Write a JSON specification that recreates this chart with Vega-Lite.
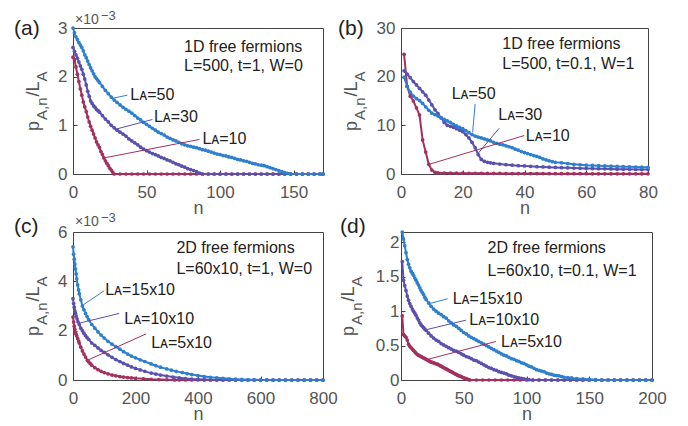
{
"$schema":"https://vega.github.io/schema/vega-lite/v6.json",
"autosize":{"type":"pad"},
"padding":{"left":13,"top":9,"right":5,"bottom":5},
"background":"white",
"config":{
 "view":{"stroke":"#444","strokeWidth":1},
 "axis":{"domain":false,"grid":false,"ticks":true,"tickSize":-4,"tickColor":"#444","labelFont":"Liberation Sans","labelFontSize":17,"labelColor":"#555","labelPadding":14,"titleFont":"Liberation Sans","titleFontSize":18,"titleFontWeight":"normal","titleColor":"#555","titlePadding":-1,"labelFlush":false,"labelOverlap":false},
 "axisY":{"labelPadding":10},
 "text":{"font":"Liberation Sans"}
},
"datasets":{
"a":[
{"n":0,"p":2.4,"s":"s1"},{"n":1,"p":2.35,"s":"s1"},{"n":2,"p":2.2,"s":"s1"},{"n":3,"p":2.05,"s":"s1"},{"n":4,"p":1.9,"s":"s1"},{"n":5,"p":1.75,"s":"s1"},{"n":6,"p":1.62,"s":"s1"},{"n":7,"p":1.48,"s":"s1"},{"n":8,"p":1.38,"s":"s1"},{"n":9,"p":1.28,"s":"s1"},{"n":10,"p":1.17,"s":"s1"},{"n":11,"p":1.07,"s":"s1"},{"n":12,"p":0.98,"s":"s1"},{"n":13,"p":0.9,"s":"s1"},{"n":14,"p":0.82,"s":"s1"},{"n":15,"p":0.74,"s":"s1"},{"n":16,"p":0.66,"s":"s1"},{"n":17,"p":0.6,"s":"s1"},{"n":18,"p":0.54,"s":"s1"},{"n":19,"p":0.46,"s":"s1"},{"n":20,"p":0.4,"s":"s1"},{"n":21,"p":0.33,"s":"s1"},{"n":22,"p":0.27,"s":"s1"},{"n":23,"p":0.22,"s":"s1"},{"n":24,"p":0.17,"s":"s1"},{"n":25,"p":0.12,"s":"s1"},{"n":26,"p":0.08,"s":"s1"},{"n":27,"p":0.04,"s":"s1"},{"n":28,"p":0,"s":"s1"},{"n":32,"p":0,"s":"s1"},{"n":36,"p":0,"s":"s1"},{"n":40,"p":0,"s":"s1"},{"n":44,"p":0,"s":"s1"},{"n":48,"p":0,"s":"s1"},{"n":52,"p":0,"s":"s1"},{"n":56,"p":0,"s":"s1"},{"n":60,"p":0,"s":"s1"},{"n":64,"p":0,"s":"s1"},{"n":68,"p":0,"s":"s1"},{"n":72,"p":0,"s":"s1"},{"n":76,"p":0,"s":"s1"},{"n":80,"p":0,"s":"s1"},{"n":84,"p":0,"s":"s1"},{"n":88,"p":0,"s":"s1"},{"n":92,"p":0,"s":"s1"},{"n":96,"p":0,"s":"s1"},{"n":100,"p":0,"s":"s1"},{"n":104,"p":0,"s":"s1"},{"n":108,"p":0,"s":"s1"},{"n":112,"p":0,"s":"s1"},{"n":116,"p":0,"s":"s1"},{"n":120,"p":0,"s":"s1"},{"n":124,"p":0,"s":"s1"},{"n":128,"p":0,"s":"s1"},{"n":132,"p":0,"s":"s1"},{"n":136,"p":0,"s":"s1"},{"n":140,"p":0,"s":"s1"},{"n":144,"p":0,"s":"s1"},{"n":148,"p":0,"s":"s1"},{"n":152,"p":0,"s":"s1"},{"n":156,"p":0,"s":"s1"},{"n":160,"p":0,"s":"s1"},{"n":164,"p":0,"s":"s1"},{"n":168,"p":0,"s":"s1"},{"n":170,"p":0,"s":"s1"},
{"n":0,"p":2.6,"s":"s2"},{"n":1,"p":2.52,"s":"s2"},{"n":2,"p":2.45,"s":"s2"},{"n":3,"p":2.38,"s":"s2"},{"n":4,"p":2.3,"s":"s2"},{"n":5,"p":2.22,"s":"s2"},{"n":6,"p":2.15,"s":"s2"},{"n":7,"p":2.05,"s":"s2"},{"n":8,"p":1.95,"s":"s2"},{"n":9,"p":1.83,"s":"s2"},{"n":10,"p":1.7,"s":"s2"},{"n":11,"p":1.6,"s":"s2"},{"n":12,"p":1.5,"s":"s2"},{"n":13,"p":1.45,"s":"s2"},{"n":14,"p":1.4,"s":"s2"},{"n":15,"p":1.37,"s":"s2"},{"n":16,"p":1.33,"s":"s2"},{"n":17,"p":1.3,"s":"s2"},{"n":18,"p":1.27,"s":"s2"},{"n":20,"p":1.2,"s":"s2"},{"n":22,"p":1.13,"s":"s2"},{"n":24,"p":1.07,"s":"s2"},{"n":26,"p":1.0,"s":"s2"},{"n":28,"p":0.95,"s":"s2"},{"n":30,"p":0.9,"s":"s2"},{"n":32,"p":0.86,"s":"s2"},{"n":34,"p":0.82,"s":"s2"},{"n":36,"p":0.78,"s":"s2"},{"n":38,"p":0.72,"s":"s2"},{"n":40,"p":0.68,"s":"s2"},{"n":42,"p":0.64,"s":"s2"},{"n":44,"p":0.6,"s":"s2"},{"n":46,"p":0.55,"s":"s2"},{"n":48,"p":0.51,"s":"s2"},{"n":50,"p":0.48,"s":"s2"},{"n":52,"p":0.45,"s":"s2"},{"n":54,"p":0.42,"s":"s2"},{"n":56,"p":0.4,"s":"s2"},{"n":58,"p":0.37,"s":"s2"},{"n":60,"p":0.34,"s":"s2"},{"n":62,"p":0.32,"s":"s2"},{"n":64,"p":0.29,"s":"s2"},{"n":66,"p":0.27,"s":"s2"},{"n":68,"p":0.24,"s":"s2"},{"n":70,"p":0.21,"s":"s2"},{"n":72,"p":0.19,"s":"s2"},{"n":74,"p":0.16,"s":"s2"},{"n":76,"p":0.14,"s":"s2"},{"n":78,"p":0.11,"s":"s2"},{"n":80,"p":0.09,"s":"s2"},{"n":82,"p":0.07,"s":"s2"},{"n":84,"p":0.05,"s":"s2"},{"n":86,"p":0.02,"s":"s2"},{"n":88,"p":0,"s":"s2"},{"n":92,"p":0,"s":"s2"},{"n":96,"p":0,"s":"s2"},{"n":100,"p":0,"s":"s2"},{"n":104,"p":0,"s":"s2"},{"n":108,"p":0,"s":"s2"},{"n":112,"p":0,"s":"s2"},{"n":116,"p":0,"s":"s2"},{"n":120,"p":0,"s":"s2"},{"n":124,"p":0,"s":"s2"},{"n":128,"p":0,"s":"s2"},{"n":132,"p":0,"s":"s2"},{"n":136,"p":0,"s":"s2"},{"n":140,"p":0,"s":"s2"},{"n":144,"p":0,"s":"s2"},{"n":148,"p":0,"s":"s2"},{"n":152,"p":0,"s":"s2"},{"n":156,"p":0,"s":"s2"},{"n":160,"p":0,"s":"s2"},{"n":164,"p":0,"s":"s2"},{"n":168,"p":0,"s":"s2"},{"n":170,"p":0,"s":"s2"},
{"n":0,"p":3.0,"s":"s3"},{"n":1,"p":2.9,"s":"s3"},{"n":2,"p":2.82,"s":"s3"},{"n":3,"p":2.76,"s":"s3"},{"n":4,"p":2.7,"s":"s3"},{"n":5,"p":2.65,"s":"s3"},{"n":6,"p":2.6,"s":"s3"},{"n":7,"p":2.53,"s":"s3"},{"n":8,"p":2.45,"s":"s3"},{"n":9,"p":2.39,"s":"s3"},{"n":10,"p":2.32,"s":"s3"},{"n":11,"p":2.25,"s":"s3"},{"n":12,"p":2.18,"s":"s3"},{"n":13,"p":2.12,"s":"s3"},{"n":14,"p":2.06,"s":"s3"},{"n":15,"p":2.0,"s":"s3"},{"n":16,"p":1.96,"s":"s3"},{"n":17,"p":1.92,"s":"s3"},{"n":18,"p":1.88,"s":"s3"},{"n":20,"p":1.8,"s":"s3"},{"n":22,"p":1.72,"s":"s3"},{"n":24,"p":1.65,"s":"s3"},{"n":26,"p":1.58,"s":"s3"},{"n":28,"p":1.52,"s":"s3"},{"n":30,"p":1.47,"s":"s3"},{"n":32,"p":1.42,"s":"s3"},{"n":34,"p":1.37,"s":"s3"},{"n":36,"p":1.33,"s":"s3"},{"n":38,"p":1.29,"s":"s3"},{"n":40,"p":1.25,"s":"s3"},{"n":42,"p":1.2,"s":"s3"},{"n":44,"p":1.15,"s":"s3"},{"n":46,"p":1.11,"s":"s3"},{"n":48,"p":1.06,"s":"s3"},{"n":50,"p":1.02,"s":"s3"},{"n":52,"p":0.98,"s":"s3"},{"n":54,"p":0.94,"s":"s3"},{"n":56,"p":0.9,"s":"s3"},{"n":58,"p":0.86,"s":"s3"},{"n":60,"p":0.83,"s":"s3"},{"n":62,"p":0.8,"s":"s3"},{"n":64,"p":0.76,"s":"s3"},{"n":66,"p":0.73,"s":"s3"},{"n":68,"p":0.7,"s":"s3"},{"n":70,"p":0.68,"s":"s3"},{"n":72,"p":0.65,"s":"s3"},{"n":74,"p":0.62,"s":"s3"},{"n":76,"p":0.6,"s":"s3"},{"n":78,"p":0.58,"s":"s3"},{"n":80,"p":0.57,"s":"s3"},{"n":82,"p":0.55,"s":"s3"},{"n":84,"p":0.54,"s":"s3"},{"n":86,"p":0.52,"s":"s3"},{"n":88,"p":0.5,"s":"s3"},{"n":90,"p":0.49,"s":"s3"},{"n":92,"p":0.47,"s":"s3"},{"n":94,"p":0.45,"s":"s3"},{"n":96,"p":0.43,"s":"s3"},{"n":98,"p":0.41,"s":"s3"},{"n":100,"p":0.4,"s":"s3"},{"n":102,"p":0.38,"s":"s3"},{"n":104,"p":0.37,"s":"s3"},{"n":106,"p":0.35,"s":"s3"},{"n":108,"p":0.34,"s":"s3"},{"n":110,"p":0.32,"s":"s3"},{"n":112,"p":0.3,"s":"s3"},{"n":114,"p":0.29,"s":"s3"},{"n":116,"p":0.27,"s":"s3"},{"n":118,"p":0.26,"s":"s3"},{"n":120,"p":0.24,"s":"s3"},{"n":122,"p":0.22,"s":"s3"},{"n":124,"p":0.21,"s":"s3"},{"n":126,"p":0.19,"s":"s3"},{"n":128,"p":0.18,"s":"s3"},{"n":130,"p":0.17,"s":"s3"},{"n":132,"p":0.15,"s":"s3"},{"n":134,"p":0.13,"s":"s3"},{"n":136,"p":0.11,"s":"s3"},{"n":138,"p":0.09,"s":"s3"},{"n":140,"p":0.07,"s":"s3"},{"n":142,"p":0.05,"s":"s3"},{"n":144,"p":0.03,"s":"s3"},{"n":146,"p":0.015,"s":"s3"},{"n":148,"p":0,"s":"s3"},{"n":152,"p":0,"s":"s3"},{"n":156,"p":0,"s":"s3"},{"n":160,"p":0,"s":"s3"},{"n":164,"p":0,"s":"s3"},{"n":168,"p":0,"s":"s3"},{"n":170,"p":0,"s":"s3"}
],
"b":[
{"n":1,"p":24.6,"s":"s1"},{"n":2,"p":18.0,"s":"s1"},{"n":3,"p":16.0,"s":"s1"},{"n":4,"p":15.0,"s":"s1"},{"n":5,"p":13.6,"s":"s1"},{"n":6,"p":12.1,"s":"s1"},{"n":7,"p":7.0,"s":"s1"},{"n":8,"p":4.5,"s":"s1"},{"n":9,"p":2.0,"s":"s1"},{"n":10,"p":0.8,"s":"s1"},{"n":11,"p":0.35,"s":"s1"},{"n":12,"p":0.25,"s":"s1"},{"n":14,"p":0.2,"s":"s1"},{"n":16,"p":0.18,"s":"s1"},{"n":18,"p":0.17,"s":"s1"},{"n":20,"p":0.16,"s":"s1"},{"n":22,"p":0.15,"s":"s1"},{"n":24,"p":0.14,"s":"s1"},{"n":26,"p":0.13,"s":"s1"},{"n":28,"p":0.12,"s":"s1"},{"n":30,"p":0.12,"s":"s1"},{"n":32,"p":0.11,"s":"s1"},{"n":34,"p":0.1,"s":"s1"},{"n":36,"p":0.1,"s":"s1"},{"n":38,"p":0.09,"s":"s1"},{"n":40,"p":0.09,"s":"s1"},{"n":42,"p":0.08,"s":"s1"},{"n":44,"p":0.08,"s":"s1"},{"n":46,"p":0.08,"s":"s1"},{"n":48,"p":0.07,"s":"s1"},{"n":50,"p":0.07,"s":"s1"},{"n":52,"p":0.07,"s":"s1"},{"n":54,"p":0.06,"s":"s1"},{"n":56,"p":0.06,"s":"s1"},{"n":58,"p":0.06,"s":"s1"},{"n":60,"p":0.06,"s":"s1"},{"n":62,"p":0.05,"s":"s1"},{"n":64,"p":0.05,"s":"s1"},{"n":66,"p":0.05,"s":"s1"},{"n":68,"p":0.05,"s":"s1"},{"n":70,"p":0.05,"s":"s1"},{"n":72,"p":0.04,"s":"s1"},{"n":74,"p":0.04,"s":"s1"},{"n":76,"p":0.04,"s":"s1"},{"n":78,"p":0.04,"s":"s1"},{"n":80,"p":0.04,"s":"s1"},
{"n":1,"p":21.2,"s":"s2"},{"n":2,"p":20.5,"s":"s2"},{"n":3,"p":19.8,"s":"s2"},{"n":4,"p":19.0,"s":"s2"},{"n":5,"p":18.3,"s":"s2"},{"n":6,"p":17.6,"s":"s2"},{"n":7,"p":16.9,"s":"s2"},{"n":8,"p":16.2,"s":"s2"},{"n":9,"p":15.2,"s":"s2"},{"n":10,"p":14.2,"s":"s2"},{"n":11,"p":13.2,"s":"s2"},{"n":12,"p":12.4,"s":"s2"},{"n":13,"p":11.5,"s":"s2"},{"n":14,"p":10.6,"s":"s2"},{"n":15,"p":10.0,"s":"s2"},{"n":16,"p":9.8,"s":"s2"},{"n":17,"p":9.6,"s":"s2"},{"n":18,"p":9.3,"s":"s2"},{"n":19,"p":9.0,"s":"s2"},{"n":20,"p":8.7,"s":"s2"},{"n":21,"p":8.1,"s":"s2"},{"n":22,"p":7.4,"s":"s2"},{"n":23,"p":6.5,"s":"s2"},{"n":24,"p":5.4,"s":"s2"},{"n":25,"p":4.0,"s":"s2"},{"n":26,"p":3.0,"s":"s2"},{"n":27,"p":2.6,"s":"s2"},{"n":28,"p":2.4,"s":"s2"},{"n":29,"p":2.3,"s":"s2"},{"n":30,"p":2.2,"s":"s2"},{"n":32,"p":2.05,"s":"s2"},{"n":34,"p":1.92,"s":"s2"},{"n":36,"p":1.82,"s":"s2"},{"n":38,"p":1.72,"s":"s2"},{"n":40,"p":1.65,"s":"s2"},{"n":42,"p":1.58,"s":"s2"},{"n":44,"p":1.5,"s":"s2"},{"n":46,"p":1.45,"s":"s2"},{"n":48,"p":1.4,"s":"s2"},{"n":50,"p":1.35,"s":"s2"},{"n":52,"p":1.3,"s":"s2"},{"n":54,"p":1.26,"s":"s2"},{"n":56,"p":1.22,"s":"s2"},{"n":58,"p":1.18,"s":"s2"},{"n":60,"p":1.15,"s":"s2"},{"n":62,"p":1.12,"s":"s2"},{"n":64,"p":1.09,"s":"s2"},{"n":66,"p":1.06,"s":"s2"},{"n":68,"p":1.03,"s":"s2"},{"n":70,"p":1.0,"s":"s2"},{"n":72,"p":0.98,"s":"s2"},{"n":74,"p":0.96,"s":"s2"},{"n":76,"p":0.94,"s":"s2"},{"n":78,"p":0.92,"s":"s2"},{"n":80,"p":0.9,"s":"s2"},
{"n":1,"p":19.9,"s":"s3"},{"n":2,"p":18.0,"s":"s3"},{"n":3,"p":16.8,"s":"s3"},{"n":4,"p":16.0,"s":"s3"},{"n":5,"p":15.5,"s":"s3"},{"n":6,"p":15.1,"s":"s3"},{"n":7,"p":14.5,"s":"s3"},{"n":8,"p":13.8,"s":"s3"},{"n":9,"p":13.1,"s":"s3"},{"n":10,"p":12.5,"s":"s3"},{"n":11,"p":12.2,"s":"s3"},{"n":12,"p":11.9,"s":"s3"},{"n":13,"p":11.6,"s":"s3"},{"n":14,"p":11.2,"s":"s3"},{"n":15,"p":10.9,"s":"s3"},{"n":16,"p":10.6,"s":"s3"},{"n":17,"p":10.2,"s":"s3"},{"n":18,"p":9.9,"s":"s3"},{"n":19,"p":9.6,"s":"s3"},{"n":20,"p":9.3,"s":"s3"},{"n":21,"p":8.9,"s":"s3"},{"n":22,"p":8.5,"s":"s3"},{"n":23,"p":8.1,"s":"s3"},{"n":24,"p":7.8,"s":"s3"},{"n":25,"p":7.6,"s":"s3"},{"n":26,"p":7.4,"s":"s3"},{"n":27,"p":7.2,"s":"s3"},{"n":28,"p":7.0,"s":"s3"},{"n":29,"p":6.8,"s":"s3"},{"n":30,"p":6.5,"s":"s3"},{"n":31,"p":6.3,"s":"s3"},{"n":32,"p":6.1,"s":"s3"},{"n":33,"p":6.0,"s":"s3"},{"n":34,"p":5.8,"s":"s3"},{"n":35,"p":5.6,"s":"s3"},{"n":36,"p":5.4,"s":"s3"},{"n":37,"p":5.1,"s":"s3"},{"n":38,"p":4.9,"s":"s3"},{"n":39,"p":4.6,"s":"s3"},{"n":40,"p":4.4,"s":"s3"},{"n":41,"p":4.2,"s":"s3"},{"n":42,"p":4.0,"s":"s3"},{"n":43,"p":3.8,"s":"s3"},{"n":44,"p":3.6,"s":"s3"},{"n":45,"p":3.4,"s":"s3"},{"n":46,"p":3.1,"s":"s3"},{"n":47,"p":2.9,"s":"s3"},{"n":48,"p":2.7,"s":"s3"},{"n":49,"p":2.55,"s":"s3"},{"n":50,"p":2.4,"s":"s3"},{"n":52,"p":2.3,"s":"s3"},{"n":54,"p":2.15,"s":"s3"},{"n":56,"p":2.0,"s":"s3"},{"n":58,"p":1.9,"s":"s3"},{"n":60,"p":1.8,"s":"s3"},{"n":62,"p":1.75,"s":"s3"},{"n":64,"p":1.7,"s":"s3"},{"n":66,"p":1.65,"s":"s3"},{"n":68,"p":1.6,"s":"s3"},{"n":70,"p":1.55,"s":"s3"},{"n":72,"p":1.5,"s":"s3"},{"n":74,"p":1.47,"s":"s3"},{"n":76,"p":1.43,"s":"s3"},{"n":78,"p":1.4,"s":"s3"},{"n":80,"p":1.38,"s":"s3"}
],
"c":[
{"n":0,"p":2.55,"s":"s1"},{"n":2,"p":2.35,"s":"s1"},{"n":4,"p":2.18,"s":"s1"},{"n":6,"p":2.05,"s":"s1"},{"n":8,"p":1.93,"s":"s1"},{"n":10,"p":1.85,"s":"s1"},{"n":12,"p":1.78,"s":"s1"},{"n":15,"p":1.68,"s":"s1"},{"n":18,"p":1.58,"s":"s1"},{"n":20,"p":1.5,"s":"s1"},{"n":25,"p":1.33,"s":"s1"},{"n":30,"p":1.18,"s":"s1"},{"n":35,"p":1.05,"s":"s1"},{"n":40,"p":0.93,"s":"s1"},{"n":46,"p":0.8,"s":"s1"},{"n":50,"p":0.74,"s":"s1"},{"n":55,"p":0.67,"s":"s1"},{"n":60,"p":0.6,"s":"s1"},{"n":70,"p":0.5,"s":"s1"},{"n":80,"p":0.42,"s":"s1"},{"n":90,"p":0.35,"s":"s1"},{"n":100,"p":0.3,"s":"s1"},{"n":112,"p":0.25,"s":"s1"},{"n":125,"p":0.2,"s":"s1"},{"n":137,"p":0.17,"s":"s1"},{"n":150,"p":0.14,"s":"s1"},{"n":162,"p":0.12,"s":"s1"},{"n":175,"p":0.1,"s":"s1"},{"n":187,"p":0.085,"s":"s1"},{"n":200,"p":0.07,"s":"s1"},{"n":225,"p":0.05,"s":"s1"},{"n":250,"p":0.03,"s":"s1"},{"n":275,"p":0.02,"s":"s1"},{"n":300,"p":0.01,"s":"s1"},{"n":325,"p":0.005,"s":"s1"},{"n":340,"p":0,"s":"s1"},{"n":360,"p":0,"s":"s1"},{"n":380,"p":0,"s":"s1"},{"n":400,"p":0,"s":"s1"},{"n":420,"p":0,"s":"s1"},{"n":440,"p":0,"s":"s1"},{"n":460,"p":0,"s":"s1"},{"n":480,"p":0,"s":"s1"},{"n":500,"p":0,"s":"s1"},{"n":520,"p":0,"s":"s1"},{"n":540,"p":0,"s":"s1"},{"n":560,"p":0,"s":"s1"},{"n":580,"p":0,"s":"s1"},{"n":600,"p":0,"s":"s1"},{"n":620,"p":0,"s":"s1"},{"n":640,"p":0,"s":"s1"},{"n":660,"p":0,"s":"s1"},{"n":680,"p":0,"s":"s1"},{"n":700,"p":0,"s":"s1"},{"n":720,"p":0,"s":"s1"},{"n":740,"p":0,"s":"s1"},{"n":760,"p":0,"s":"s1"},{"n":780,"p":0,"s":"s1"},{"n":800,"p":0,"s":"s1"},
{"n":0,"p":3.3,"s":"s2"},{"n":2,"p":3.1,"s":"s2"},{"n":4,"p":2.95,"s":"s2"},{"n":6,"p":2.8,"s":"s2"},{"n":8,"p":2.7,"s":"s2"},{"n":10,"p":2.6,"s":"s2"},{"n":13,"p":2.48,"s":"s2"},{"n":16,"p":2.36,"s":"s2"},{"n":20,"p":2.25,"s":"s2"},{"n":25,"p":2.1,"s":"s2"},{"n":30,"p":2.0,"s":"s2"},{"n":35,"p":1.9,"s":"s2"},{"n":40,"p":1.8,"s":"s2"},{"n":45,"p":1.72,"s":"s2"},{"n":50,"p":1.65,"s":"s2"},{"n":60,"p":1.5,"s":"s2"},{"n":70,"p":1.4,"s":"s2"},{"n":80,"p":1.3,"s":"s2"},{"n":90,"p":1.2,"s":"s2"},{"n":100,"p":1.12,"s":"s2"},{"n":112,"p":1.02,"s":"s2"},{"n":125,"p":0.92,"s":"s2"},{"n":137,"p":0.83,"s":"s2"},{"n":150,"p":0.75,"s":"s2"},{"n":162,"p":0.67,"s":"s2"},{"n":175,"p":0.6,"s":"s2"},{"n":187,"p":0.53,"s":"s2"},{"n":200,"p":0.47,"s":"s2"},{"n":215,"p":0.41,"s":"s2"},{"n":230,"p":0.35,"s":"s2"},{"n":250,"p":0.28,"s":"s2"},{"n":265,"p":0.24,"s":"s2"},{"n":280,"p":0.2,"s":"s2"},{"n":300,"p":0.16,"s":"s2"},{"n":320,"p":0.12,"s":"s2"},{"n":340,"p":0.09,"s":"s2"},{"n":360,"p":0.06,"s":"s2"},{"n":380,"p":0.04,"s":"s2"},{"n":400,"p":0.03,"s":"s2"},{"n":420,"p":0.02,"s":"s2"},{"n":440,"p":0.01,"s":"s2"},{"n":460,"p":0.005,"s":"s2"},{"n":480,"p":0,"s":"s2"},{"n":500,"p":0,"s":"s2"},{"n":520,"p":0,"s":"s2"},{"n":540,"p":0,"s":"s2"},{"n":560,"p":0,"s":"s2"},{"n":580,"p":0,"s":"s2"},{"n":600,"p":0,"s":"s2"},{"n":620,"p":0,"s":"s2"},{"n":640,"p":0,"s":"s2"},{"n":660,"p":0,"s":"s2"},{"n":680,"p":0,"s":"s2"},{"n":700,"p":0,"s":"s2"},{"n":720,"p":0,"s":"s2"},{"n":740,"p":0,"s":"s2"},{"n":760,"p":0,"s":"s2"},{"n":780,"p":0,"s":"s2"},{"n":800,"p":0,"s":"s2"},
{"n":0,"p":5.4,"s":"s3"},{"n":2,"p":5.1,"s":"s3"},{"n":4,"p":4.9,"s":"s3"},{"n":6,"p":4.7,"s":"s3"},{"n":8,"p":4.5,"s":"s3"},{"n":10,"p":4.3,"s":"s3"},{"n":12,"p":4.1,"s":"s3"},{"n":15,"p":3.85,"s":"s3"},{"n":18,"p":3.65,"s":"s3"},{"n":20,"p":3.5,"s":"s3"},{"n":25,"p":3.25,"s":"s3"},{"n":30,"p":3.0,"s":"s3"},{"n":35,"p":2.85,"s":"s3"},{"n":40,"p":2.7,"s":"s3"},{"n":45,"p":2.57,"s":"s3"},{"n":50,"p":2.45,"s":"s3"},{"n":60,"p":2.25,"s":"s3"},{"n":70,"p":2.1,"s":"s3"},{"n":80,"p":1.95,"s":"s3"},{"n":90,"p":1.82,"s":"s3"},{"n":100,"p":1.7,"s":"s3"},{"n":112,"p":1.57,"s":"s3"},{"n":125,"p":1.45,"s":"s3"},{"n":137,"p":1.35,"s":"s3"},{"n":150,"p":1.25,"s":"s3"},{"n":162,"p":1.15,"s":"s3"},{"n":175,"p":1.05,"s":"s3"},{"n":187,"p":0.97,"s":"s3"},{"n":200,"p":0.9,"s":"s3"},{"n":215,"p":0.82,"s":"s3"},{"n":230,"p":0.75,"s":"s3"},{"n":250,"p":0.65,"s":"s3"},{"n":265,"p":0.58,"s":"s3"},{"n":280,"p":0.52,"s":"s3"},{"n":300,"p":0.45,"s":"s3"},{"n":315,"p":0.4,"s":"s3"},{"n":330,"p":0.35,"s":"s3"},{"n":350,"p":0.3,"s":"s3"},{"n":365,"p":0.26,"s":"s3"},{"n":380,"p":0.22,"s":"s3"},{"n":400,"p":0.18,"s":"s3"},{"n":420,"p":0.14,"s":"s3"},{"n":440,"p":0.11,"s":"s3"},{"n":460,"p":0.09,"s":"s3"},{"n":480,"p":0.07,"s":"s3"},{"n":500,"p":0.05,"s":"s3"},{"n":520,"p":0.035,"s":"s3"},{"n":540,"p":0.025,"s":"s3"},{"n":560,"p":0.015,"s":"s3"},{"n":580,"p":0.01,"s":"s3"},{"n":600,"p":0.005,"s":"s3"},{"n":620,"p":0.002,"s":"s3"},{"n":640,"p":0,"s":"s3"},{"n":660,"p":0,"s":"s3"},{"n":680,"p":0,"s":"s3"},{"n":700,"p":0,"s":"s3"},{"n":720,"p":0,"s":"s3"},{"n":740,"p":0,"s":"s3"},{"n":760,"p":0,"s":"s3"},{"n":780,"p":0,"s":"s3"},{"n":800,"p":0,"s":"s3"}
],
"d":[
{"n":1,"p":0.93,"s":"s1"},{"n":2,"p":0.66,"s":"s1"},{"n":3,"p":0.64,"s":"s1"},{"n":4,"p":0.62,"s":"s1"},{"n":5,"p":0.58,"s":"s1"},{"n":6,"p":0.52,"s":"s1"},{"n":7,"p":0.49,"s":"s1"},{"n":8,"p":0.47,"s":"s1"},{"n":9,"p":0.45,"s":"s1"},{"n":10,"p":0.43,"s":"s1"},{"n":11,"p":0.41,"s":"s1"},{"n":12,"p":0.39,"s":"s1"},{"n":13,"p":0.37,"s":"s1"},{"n":14,"p":0.36,"s":"s1"},{"n":15,"p":0.35,"s":"s1"},{"n":16,"p":0.34,"s":"s1"},{"n":17,"p":0.33,"s":"s1"},{"n":18,"p":0.32,"s":"s1"},{"n":19,"p":0.31,"s":"s1"},{"n":20,"p":0.3,"s":"s1"},{"n":21,"p":0.29,"s":"s1"},{"n":22,"p":0.28,"s":"s1"},{"n":23,"p":0.27,"s":"s1"},{"n":24,"p":0.26,"s":"s1"},{"n":25,"p":0.255,"s":"s1"},{"n":26,"p":0.25,"s":"s1"},{"n":27,"p":0.24,"s":"s1"},{"n":28,"p":0.235,"s":"s1"},{"n":29,"p":0.23,"s":"s1"},{"n":30,"p":0.22,"s":"s1"},{"n":31,"p":0.21,"s":"s1"},{"n":32,"p":0.2,"s":"s1"},{"n":33,"p":0.19,"s":"s1"},{"n":34,"p":0.18,"s":"s1"},{"n":35,"p":0.17,"s":"s1"},{"n":36,"p":0.16,"s":"s1"},{"n":37,"p":0.15,"s":"s1"},{"n":38,"p":0.14,"s":"s1"},{"n":39,"p":0.13,"s":"s1"},{"n":40,"p":0.12,"s":"s1"},{"n":41,"p":0.11,"s":"s1"},{"n":42,"p":0.1,"s":"s1"},{"n":43,"p":0.09,"s":"s1"},{"n":44,"p":0.08,"s":"s1"},{"n":45,"p":0.07,"s":"s1"},{"n":46,"p":0.06,"s":"s1"},{"n":47,"p":0.055,"s":"s1"},{"n":48,"p":0.05,"s":"s1"},{"n":49,"p":0.04,"s":"s1"},{"n":50,"p":0.03,"s":"s1"},{"n":51,"p":0.025,"s":"s1"},{"n":52,"p":0.02,"s":"s1"},{"n":53,"p":0.01,"s":"s1"},{"n":54,"p":0.005,"s":"s1"},{"n":55,"p":0,"s":"s1"},{"n":60,"p":0,"s":"s1"},{"n":65,"p":0,"s":"s1"},{"n":70,"p":0,"s":"s1"},{"n":75,"p":0,"s":"s1"},{"n":80,"p":0,"s":"s1"},{"n":85,"p":0,"s":"s1"},{"n":90,"p":0,"s":"s1"},{"n":95,"p":0,"s":"s1"},{"n":100,"p":0,"s":"s1"},{"n":105,"p":0,"s":"s1"},{"n":110,"p":0,"s":"s1"},{"n":115,"p":0,"s":"s1"},{"n":120,"p":0,"s":"s1"},{"n":125,"p":0,"s":"s1"},{"n":130,"p":0,"s":"s1"},{"n":135,"p":0,"s":"s1"},{"n":140,"p":0,"s":"s1"},{"n":145,"p":0,"s":"s1"},{"n":150,"p":0,"s":"s1"},{"n":155,"p":0,"s":"s1"},{"n":160,"p":0,"s":"s1"},{"n":165,"p":0,"s":"s1"},{"n":170,"p":0,"s":"s1"},{"n":175,"p":0,"s":"s1"},{"n":180,"p":0,"s":"s1"},{"n":185,"p":0,"s":"s1"},{"n":190,"p":0,"s":"s1"},{"n":195,"p":0,"s":"s1"},{"n":200,"p":0,"s":"s1"},
{"n":1,"p":1.72,"s":"s2"},{"n":2,"p":1.45,"s":"s2"},{"n":3,"p":1.37,"s":"s2"},{"n":4,"p":1.3,"s":"s2"},{"n":5,"p":1.22,"s":"s2"},{"n":6,"p":1.16,"s":"s2"},{"n":7,"p":1.11,"s":"s2"},{"n":8,"p":1.07,"s":"s2"},{"n":9,"p":1.03,"s":"s2"},{"n":10,"p":1.0,"s":"s2"},{"n":11,"p":0.97,"s":"s2"},{"n":12,"p":0.94,"s":"s2"},{"n":13,"p":0.9,"s":"s2"},{"n":14,"p":0.87,"s":"s2"},{"n":15,"p":0.83,"s":"s2"},{"n":16,"p":0.8,"s":"s2"},{"n":17,"p":0.78,"s":"s2"},{"n":18,"p":0.76,"s":"s2"},{"n":19,"p":0.74,"s":"s2"},{"n":20,"p":0.72,"s":"s2"},{"n":22,"p":0.68,"s":"s2"},{"n":24,"p":0.64,"s":"s2"},{"n":26,"p":0.61,"s":"s2"},{"n":28,"p":0.58,"s":"s2"},{"n":30,"p":0.56,"s":"s2"},{"n":32,"p":0.53,"s":"s2"},{"n":34,"p":0.51,"s":"s2"},{"n":36,"p":0.49,"s":"s2"},{"n":38,"p":0.47,"s":"s2"},{"n":40,"p":0.45,"s":"s2"},{"n":42,"p":0.43,"s":"s2"},{"n":44,"p":0.42,"s":"s2"},{"n":46,"p":0.4,"s":"s2"},{"n":48,"p":0.38,"s":"s2"},{"n":50,"p":0.36,"s":"s2"},{"n":52,"p":0.34,"s":"s2"},{"n":54,"p":0.33,"s":"s2"},{"n":56,"p":0.31,"s":"s2"},{"n":58,"p":0.29,"s":"s2"},{"n":60,"p":0.28,"s":"s2"},{"n":62,"p":0.26,"s":"s2"},{"n":64,"p":0.24,"s":"s2"},{"n":66,"p":0.22,"s":"s2"},{"n":68,"p":0.2,"s":"s2"},{"n":70,"p":0.18,"s":"s2"},{"n":72,"p":0.17,"s":"s2"},{"n":74,"p":0.15,"s":"s2"},{"n":76,"p":0.14,"s":"s2"},{"n":78,"p":0.12,"s":"s2"},{"n":80,"p":0.11,"s":"s2"},{"n":82,"p":0.1,"s":"s2"},{"n":84,"p":0.09,"s":"s2"},{"n":86,"p":0.07,"s":"s2"},{"n":88,"p":0.06,"s":"s2"},{"n":90,"p":0.05,"s":"s2"},{"n":92,"p":0.04,"s":"s2"},{"n":94,"p":0.03,"s":"s2"},{"n":96,"p":0.025,"s":"s2"},{"n":98,"p":0.015,"s":"s2"},{"n":100,"p":0.01,"s":"s2"},{"n":102,"p":0.005,"s":"s2"},{"n":105,"p":0,"s":"s2"},{"n":110,"p":0,"s":"s2"},{"n":115,"p":0,"s":"s2"},{"n":120,"p":0,"s":"s2"},{"n":125,"p":0,"s":"s2"},{"n":130,"p":0,"s":"s2"},{"n":135,"p":0,"s":"s2"},{"n":140,"p":0,"s":"s2"},{"n":145,"p":0,"s":"s2"},{"n":150,"p":0,"s":"s2"},{"n":155,"p":0,"s":"s2"},{"n":160,"p":0,"s":"s2"},{"n":165,"p":0,"s":"s2"},{"n":170,"p":0,"s":"s2"},{"n":175,"p":0,"s":"s2"},{"n":180,"p":0,"s":"s2"},{"n":185,"p":0,"s":"s2"},{"n":190,"p":0,"s":"s2"},{"n":195,"p":0,"s":"s2"},{"n":200,"p":0,"s":"s2"},
{"n":1,"p":2.15,"s":"s3"},{"n":2,"p":2.05,"s":"s3"},{"n":3,"p":1.95,"s":"s3"},{"n":4,"p":1.85,"s":"s3"},{"n":5,"p":1.75,"s":"s3"},{"n":6,"p":1.68,"s":"s3"},{"n":7,"p":1.63,"s":"s3"},{"n":8,"p":1.58,"s":"s3"},{"n":9,"p":1.55,"s":"s3"},{"n":10,"p":1.52,"s":"s3"},{"n":11,"p":1.48,"s":"s3"},{"n":12,"p":1.45,"s":"s3"},{"n":13,"p":1.41,"s":"s3"},{"n":14,"p":1.38,"s":"s3"},{"n":15,"p":1.34,"s":"s3"},{"n":16,"p":1.3,"s":"s3"},{"n":17,"p":1.27,"s":"s3"},{"n":18,"p":1.24,"s":"s3"},{"n":19,"p":1.2,"s":"s3"},{"n":20,"p":1.17,"s":"s3"},{"n":22,"p":1.12,"s":"s3"},{"n":24,"p":1.07,"s":"s3"},{"n":26,"p":1.03,"s":"s3"},{"n":28,"p":1.0,"s":"s3"},{"n":30,"p":0.97,"s":"s3"},{"n":32,"p":0.95,"s":"s3"},{"n":34,"p":0.92,"s":"s3"},{"n":36,"p":0.9,"s":"s3"},{"n":38,"p":0.86,"s":"s3"},{"n":40,"p":0.83,"s":"s3"},{"n":42,"p":0.8,"s":"s3"},{"n":44,"p":0.78,"s":"s3"},{"n":46,"p":0.75,"s":"s3"},{"n":48,"p":0.72,"s":"s3"},{"n":50,"p":0.69,"s":"s3"},{"n":52,"p":0.67,"s":"s3"},{"n":54,"p":0.64,"s":"s3"},{"n":56,"p":0.62,"s":"s3"},{"n":58,"p":0.6,"s":"s3"},{"n":60,"p":0.58,"s":"s3"},{"n":62,"p":0.56,"s":"s3"},{"n":64,"p":0.54,"s":"s3"},{"n":66,"p":0.52,"s":"s3"},{"n":68,"p":0.5,"s":"s3"},{"n":70,"p":0.48,"s":"s3"},{"n":72,"p":0.46,"s":"s3"},{"n":74,"p":0.44,"s":"s3"},{"n":76,"p":0.42,"s":"s3"},{"n":78,"p":0.4,"s":"s3"},{"n":80,"p":0.38,"s":"s3"},{"n":82,"p":0.36,"s":"s3"},{"n":84,"p":0.35,"s":"s3"},{"n":86,"p":0.33,"s":"s3"},{"n":88,"p":0.31,"s":"s3"},{"n":90,"p":0.3,"s":"s3"},{"n":92,"p":0.28,"s":"s3"},{"n":94,"p":0.27,"s":"s3"},{"n":96,"p":0.25,"s":"s3"},{"n":98,"p":0.24,"s":"s3"},{"n":100,"p":0.22,"s":"s3"},{"n":102,"p":0.2,"s":"s3"},{"n":104,"p":0.19,"s":"s3"},{"n":106,"p":0.17,"s":"s3"},{"n":108,"p":0.15,"s":"s3"},{"n":110,"p":0.14,"s":"s3"},{"n":112,"p":0.13,"s":"s3"},{"n":114,"p":0.12,"s":"s3"},{"n":116,"p":0.1,"s":"s3"},{"n":118,"p":0.09,"s":"s3"},{"n":120,"p":0.08,"s":"s3"},{"n":122,"p":0.07,"s":"s3"},{"n":124,"p":0.065,"s":"s3"},{"n":126,"p":0.06,"s":"s3"},{"n":128,"p":0.05,"s":"s3"},{"n":130,"p":0.04,"s":"s3"},{"n":133,"p":0.035,"s":"s3"},{"n":136,"p":0.03,"s":"s3"},{"n":140,"p":0.02,"s":"s3"},{"n":145,"p":0.015,"s":"s3"},{"n":150,"p":0.01,"s":"s3"},{"n":155,"p":0.005,"s":"s3"},{"n":160,"p":0,"s":"s3"},{"n":165,"p":0,"s":"s3"},{"n":170,"p":0,"s":"s3"},{"n":175,"p":0,"s":"s3"},{"n":180,"p":0,"s":"s3"},{"n":185,"p":0,"s":"s3"},{"n":190,"p":0,"s":"s3"},{"n":195,"p":0,"s":"s3"},{"n":200,"p":0,"s":"s3"}
]
},
"columns":2,
"spacing":{"row":58,"column":78},
"bounds":"flush",
"concat":[
{"width":250,"height":146,"layer":[
 {"data":{"name":"a"},"mark":{"type":"line","strokeWidth":2,"point":{"filled":true,"size":14}},
  "encoding":{"x":{"field":"n","type":"quantitative","title":"n","scale":{"domain":[0,170],"nice":false},"axis":{"values":[0,50,100,150]}},
   "y":{"field":"p","type":"quantitative","title":null,"scale":{"domain":[0,3],"nice":false},"axis":{"values":[0,1,2,3]}},
   "color":{"field":"s","type":"nominal","scale":{"domain":["s1","s2","s3"],"range":["#a3305f","#5a50ae","#2e80cf"]},"legend":null}}},
 {"data":{"values":[{"n":26,"p":1.55,"n2":37,"p2":1.62,"s":"s3"},{"n":29,"p":0.92,"n2":54,"p2":1.12,"s":"s2"},{"n":21,"p":0.33,"n2":86,"p2":0.71,"s":"s1"}]},
  "mark":{"type":"rule","strokeWidth":1},
  "encoding":{"x":{"field":"n","type":"quantitative","title":"n"},"y":{"field":"p","type":"quantitative","title":null},"x2":{"field":"n2"},"y2":{"field":"p2"},"color":{"field":"s","type":"nominal","legend":null}}},
 {"data":{"values":[{"n":39,"p":1.62,"t":"Lᴀ=50"},{"n":55,"p":1.17,"t":"Lᴀ=30"},{"n":88,"p":0.72,"t":"Lᴀ=10"},{"n":75.5,"p":2.61,"t":"1D free fermions"},{"n":75.5,"p":2.22,"t":"L=500, t=1, W=0"}]},
  "mark":{"type":"text","align":"left","baseline":"middle","fontSize":16,"color":"#222"},
  "encoding":{"x":{"field":"n","type":"quantitative","title":"n"},"y":{"field":"p","type":"quantitative","title":null},"text":{"field":"t"}}},
 {"data":{"values":[{}]},"mark":{"type":"text","text":"(a)","align":"left","baseline":"middle","fontSize":21,"dx":-59,"dy":1,"color":"#222"},
  "encoding":{"x":{"datum":0,"type":"quantitative"},"y":{"datum":3,"type":"quantitative"}}},
 {"data":{"values":[{}]},"mark":{"type":"text","text":"×10","align":"left","baseline":"alphabetic","fontSize":14,"dx":2,"dy":-4,"color":"#555"},
  "encoding":{"x":{"datum":0,"type":"quantitative"},"y":{"datum":3,"type":"quantitative"}}},
 {"data":{"values":[{}]},"mark":{"type":"text","text":"−3","align":"left","baseline":"alphabetic","fontSize":13,"dx":28,"dy":-8,"color":"#555"},
  "encoding":{"x":{"datum":0,"type":"quantitative"},"y":{"datum":3,"type":"quantitative"}}},
 {"data":{"values":[{}]},"mark":{"type":"text","text":"p","angle":270,"align":"left","baseline":"alphabetic","fontSize":18,"dx":-30,"dy":-34,"color":"#555"},
  "encoding":{"x":{"datum":0,"type":"quantitative"},"y":{"datum":1.5,"type":"quantitative"}}},
 {"data":{"values":[{}]},"mark":{"type":"text","text":"A,n","angle":270,"align":"left","baseline":"alphabetic","fontSize":15,"dx":-19,"dy":-26,"color":"#555"},
  "encoding":{"x":{"datum":0,"type":"quantitative"},"y":{"datum":1.5,"type":"quantitative"}}},
 {"data":{"values":[{}]},"mark":{"type":"text","text":"/L","angle":270,"align":"left","baseline":"alphabetic","fontSize":18,"dx":4.5,"dy":-34,"color":"#555"},
  "encoding":{"x":{"datum":0,"type":"quantitative"},"y":{"datum":1.5,"type":"quantitative"}}},
 {"data":{"values":[{}]},"mark":{"type":"text","text":"A","angle":270,"align":"left","baseline":"alphabetic","fontSize":15,"dx":19.5,"dy":-26,"color":"#555"},
  "encoding":{"x":{"datum":0,"type":"quantitative"},"y":{"datum":1.5,"type":"quantitative"}}}
]},
{"width":247,"height":146,"layer":[
 {"data":{"name":"b"},"mark":{"type":"line","strokeWidth":2,"point":{"filled":true,"size":14}},
  "encoding":{"x":{"field":"n","type":"quantitative","title":"n","scale":{"domain":[0,80],"nice":false},"axis":{"values":[0,20,40,60,80]}},
   "y":{"field":"p","type":"quantitative","title":null,"scale":{"domain":[0,30],"nice":false},"axis":{"values":[0,10,20,30]}},
   "color":{"field":"s","type":"nominal","scale":{"domain":["s1","s2","s3"],"range":["#a3305f","#5a50ae","#2e80cf"]},"legend":null}}},
 {"data":{"values":[{"n":23.2,"p":8.55,"n2":24,"p2":14.4,"s":"s3"},{"n":24.8,"p":4.1,"n2":31.8,"p2":9.4,"s":"s2"},{"n":9.2,"p":2.0,"n2":39.9,"p2":7.9,"s":"s1"}]},
  "mark":{"type":"rule","strokeWidth":1},
  "encoding":{"x":{"field":"n","type":"quantitative","title":"n"},"y":{"field":"p","type":"quantitative","title":null},"x2":{"field":"n2"},"y2":{"field":"p2"},"color":{"field":"s","type":"nominal","legend":null}}},
 {"data":{"values":[{"n":16.4,"p":16.4,"t":"Lᴀ=50"},{"n":31.5,"p":12.1,"t":"Lᴀ=30"},{"n":40.4,"p":7.8,"t":"Lᴀ=10"},{"n":32.8,"p":26.7,"t":"1D free fermions"},{"n":32.8,"p":22.6,"t":"L=500, t=0.1, W=1"}]},
  "mark":{"type":"text","align":"left","baseline":"middle","fontSize":16,"color":"#222"},
  "encoding":{"x":{"field":"n","type":"quantitative","title":"n"},"y":{"field":"p","type":"quantitative","title":null},"text":{"field":"t"}}},
 {"data":{"values":[{}]},"mark":{"type":"text","text":"(b)","align":"left","baseline":"middle","fontSize":21,"dx":-63,"dy":1,"color":"#222"},
  "encoding":{"x":{"datum":0,"type":"quantitative"},"y":{"datum":30,"type":"quantitative"}}},
 {"data":{"values":[{}]},"mark":{"type":"text","text":"p","angle":270,"align":"left","baseline":"alphabetic","fontSize":18,"dx":-30,"dy":-44,"color":"#555"},
  "encoding":{"x":{"datum":0,"type":"quantitative"},"y":{"datum":15,"type":"quantitative"}}},
 {"data":{"values":[{}]},"mark":{"type":"text","text":"A,n","angle":270,"align":"left","baseline":"alphabetic","fontSize":15,"dx":-19,"dy":-36,"color":"#555"},
  "encoding":{"x":{"datum":0,"type":"quantitative"},"y":{"datum":15,"type":"quantitative"}}},
 {"data":{"values":[{}]},"mark":{"type":"text","text":"/L","angle":270,"align":"left","baseline":"alphabetic","fontSize":18,"dx":4.5,"dy":-44,"color":"#555"},
  "encoding":{"x":{"datum":0,"type":"quantitative"},"y":{"datum":15,"type":"quantitative"}}},
 {"data":{"values":[{}]},"mark":{"type":"text","text":"A","angle":270,"align":"left","baseline":"alphabetic","fontSize":15,"dx":19.5,"dy":-36,"color":"#555"},
  "encoding":{"x":{"datum":0,"type":"quantitative"},"y":{"datum":15,"type":"quantitative"}}}
]},
{"width":250,"height":148,"layer":[
 {"data":{"name":"c"},"mark":{"type":"line","strokeWidth":2,"point":{"filled":true,"size":14}},
  "encoding":{"x":{"field":"n","type":"quantitative","title":"n","scale":{"domain":[0,800],"nice":false},"axis":{"values":[0,200,400,600,800]}},
   "y":{"field":"p","type":"quantitative","title":null,"scale":{"domain":[0,6],"nice":false},"axis":{"values":[0,2,4,6]}},
   "color":{"field":"s","type":"nominal","scale":{"domain":["s1","s2","s3"],"range":["#a3305f","#5a50ae","#2e80cf"]},"legend":null}}},
 {"data":{"values":[{"n":25,"p":2.98,"n2":100,"p2":3.62,"s":"s3"},{"n":19,"p":2.3,"n2":148,"p2":2.7,"s":"s2"},{"n":46,"p":0.8,"n2":234,"p2":1.87,"s":"s1"}]},
  "mark":{"type":"rule","strokeWidth":1},
  "encoding":{"x":{"field":"n","type":"quantitative","title":"n"},"y":{"field":"p","type":"quantitative","title":null},"x2":{"field":"n2"},"y2":{"field":"p2"},"color":{"field":"s","type":"nominal","legend":null}}},
 {"data":{"values":[{"n":103,"p":3.63,"t":"Lᴀ=15x10"},{"n":164,"p":2.48,"t":"Lᴀ=10x10"},{"n":250,"p":1.52,"t":"Lᴀ=5x10"},{"n":331,"p":5.37,"t":"2D free fermions"},{"n":331,"p":4.5,"t":"L=60x10, t=1, W=0"}]},
  "mark":{"type":"text","align":"left","baseline":"middle","fontSize":16,"color":"#222"},
  "encoding":{"x":{"field":"n","type":"quantitative","title":"n"},"y":{"field":"p","type":"quantitative","title":null},"text":{"field":"t"}}},
 {"data":{"values":[{}]},"mark":{"type":"text","text":"(c)","align":"left","baseline":"middle","fontSize":21,"dx":-59,"dy":-5,"color":"#222"},
  "encoding":{"x":{"datum":0,"type":"quantitative"},"y":{"datum":6,"type":"quantitative"}}},
 {"data":{"values":[{}]},"mark":{"type":"text","text":"×10","align":"left","baseline":"alphabetic","fontSize":14,"dx":2,"dy":-6,"color":"#555"},
  "encoding":{"x":{"datum":0,"type":"quantitative"},"y":{"datum":6,"type":"quantitative"}}},
 {"data":{"values":[{}]},"mark":{"type":"text","text":"−3","align":"left","baseline":"alphabetic","fontSize":13,"dx":28,"dy":-10,"color":"#555"},
  "encoding":{"x":{"datum":0,"type":"quantitative"},"y":{"datum":6,"type":"quantitative"}}},
 {"data":{"values":[{}]},"mark":{"type":"text","text":"p","angle":270,"align":"left","baseline":"alphabetic","fontSize":18,"dx":-30,"dy":-34,"color":"#555"},
  "encoding":{"x":{"datum":0,"type":"quantitative"},"y":{"datum":3,"type":"quantitative"}}},
 {"data":{"values":[{}]},"mark":{"type":"text","text":"A,n","angle":270,"align":"left","baseline":"alphabetic","fontSize":15,"dx":-19,"dy":-26,"color":"#555"},
  "encoding":{"x":{"datum":0,"type":"quantitative"},"y":{"datum":3,"type":"quantitative"}}},
 {"data":{"values":[{}]},"mark":{"type":"text","text":"/L","angle":270,"align":"left","baseline":"alphabetic","fontSize":18,"dx":4.5,"dy":-34,"color":"#555"},
  "encoding":{"x":{"datum":0,"type":"quantitative"},"y":{"datum":3,"type":"quantitative"}}},
 {"data":{"values":[{}]},"mark":{"type":"text","text":"A","angle":270,"align":"left","baseline":"alphabetic","fontSize":15,"dx":19.5,"dy":-26,"color":"#555"},
  "encoding":{"x":{"datum":0,"type":"quantitative"},"y":{"datum":3,"type":"quantitative"}}}
]},
{"width":251,"height":148,"layer":[
 {"data":{"name":"d"},"mark":{"type":"line","strokeWidth":2,"point":{"filled":true,"size":14}},
  "encoding":{"x":{"field":"n","type":"quantitative","title":"n","scale":{"domain":[0,200],"nice":false},"axis":{"values":[0,50,100,150,200]}},
   "y":{"field":"p","type":"quantitative","title":null,"scale":{"domain":[0,2.15],"nice":false},"axis":{"values":[0,0.5,1,1.5,2],"tickCount":10,"format":".1~f","labelPadding":6}},
   "color":{"field":"s","type":"nominal","scale":{"domain":["s1","s2","s3"],"range":["#a3305f","#5a50ae","#2e80cf"]},"legend":null}}},
 {"data":{"values":[{"n":22.6,"p":1.11,"n2":37.2,"p2":1.18,"s":"s3"},{"n":20,"p":0.73,"n2":51.8,"p2":0.87,"s":"s2"},{"n":21.3,"p":0.3,"n2":75.7,"p2":0.56,"s":"s1"}]},
  "mark":{"type":"rule","strokeWidth":1},
  "encoding":{"x":{"field":"n","type":"quantitative","title":"n"},"y":{"field":"p","type":"quantitative","title":null},"x2":{"field":"n2"},"y2":{"field":"p2"},"color":{"field":"s","type":"nominal","legend":null}}},
 {"data":{"values":[{"n":41.2,"p":1.17,"t":"Lᴀ=15x10"},{"n":54.4,"p":0.87,"t":"Lᴀ=10x10"},{"n":79.7,"p":0.55,"t":"Lᴀ=5x10"},{"n":69,"p":1.92,"t":"2D free fermions"},{"n":69,"p":1.59,"t":"L=60x10, t=0.1, W=1"}]},
  "mark":{"type":"text","align":"left","baseline":"middle","fontSize":16,"color":"#222"},
  "encoding":{"x":{"field":"n","type":"quantitative","title":"n"},"y":{"field":"p","type":"quantitative","title":null},"text":{"field":"t"}}},
 {"data":{"values":[{}]},"mark":{"type":"text","text":"(d)","align":"left","baseline":"middle","fontSize":21,"dx":-61,"dy":-5,"color":"#222"},
  "encoding":{"x":{"datum":0,"type":"quantitative"},"y":{"datum":2.15,"type":"quantitative"}}},
 {"data":{"values":[{}]},"mark":{"type":"text","text":"p","angle":270,"align":"left","baseline":"alphabetic","fontSize":18,"dx":-30,"dy":-47,"color":"#555"},
  "encoding":{"x":{"datum":0,"type":"quantitative"},"y":{"datum":1.075,"type":"quantitative"}}},
 {"data":{"values":[{}]},"mark":{"type":"text","text":"A,n","angle":270,"align":"left","baseline":"alphabetic","fontSize":15,"dx":-19,"dy":-39,"color":"#555"},
  "encoding":{"x":{"datum":0,"type":"quantitative"},"y":{"datum":1.075,"type":"quantitative"}}},
 {"data":{"values":[{}]},"mark":{"type":"text","text":"/L","angle":270,"align":"left","baseline":"alphabetic","fontSize":18,"dx":4.5,"dy":-47,"color":"#555"},
  "encoding":{"x":{"datum":0,"type":"quantitative"},"y":{"datum":1.075,"type":"quantitative"}}},
 {"data":{"values":[{}]},"mark":{"type":"text","text":"A","angle":270,"align":"left","baseline":"alphabetic","fontSize":15,"dx":19.5,"dy":-39,"color":"#555"},
  "encoding":{"x":{"datum":0,"type":"quantitative"},"y":{"datum":1.075,"type":"quantitative"}}}
]}
]
}
